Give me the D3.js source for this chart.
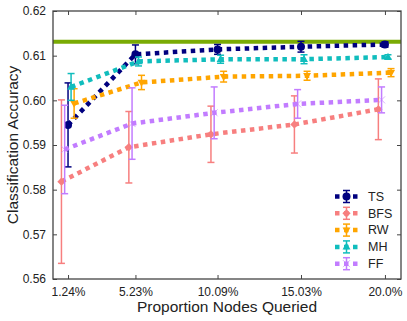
<!DOCTYPE html>
<html>
<head>
<meta charset="utf-8">
<script src="https://cdn.jsdelivr.net/npm/d3@7"></script>
<style>
  body { margin: 0; background: #fff; }
  svg text { font-family: "Liberation Sans", Arial, sans-serif; fill: #222; }
</style>
</head>
<body>
<svg id="chart" width="407" height="321"></svg>
<script>
// proportion of nodes queried (%)
const xValues = [1.24, 5.23, 10.09, 15.03, 20.0];
const xTickLabels = ['1.24%', '5.23%', '10.09%', '15.03%', '20.0%'];
const yTicks = [0.56, 0.57, 0.58, 0.59, 0.60, 0.61, 0.62];

const seriesNames = ['TS', 'BFS', 'RW', 'MH', 'FF'];
const tsMean  = [0.5945, 0.6103, 0.6114, 0.6120, 0.6125];
const tsErr   = [0.0094, 0.0021, 0.0011, 0.0012, 0.0006];
const bfsMean = [0.5818, 0.5895, 0.5924, 0.5946, 0.5980];
const bfsErr  = [0.0183, 0.0080, 0.0063, 0.0064, 0.0068];
const rwMean  = [0.5993, 0.6040, 0.6053, 0.6055, 0.6062];
const rwErr   = [0.0033, 0.0016, 0.0012, 0.0010, 0.0009];
const mhMean  = [0.6030, 0.6087, 0.6092, 0.6092, 0.6097];
const mhErr   = [0.0030, 0.0010, 0.0009, 0.0010, 0.0005];
const ffMean  = [0.5890, 0.5948, 0.5972, 0.5992, 0.6001];
const ffErr   = [0.0099, 0.0080, 0.0058, 0.0032, 0.0029];

// full-graph accuracy reference line
const baseline = 0.6131;

class ErrorbarChart {

  constructor(_config) {
    this.config = {
      parentElement: _config.parentElement,
      margin: { top: 11, right: 6, bottom: 42, left: 53 }
    };
    this.series = [
      { name: 'TS',  mean: tsMean,  err: tsErr,  color: '#00007f', marker: 'circle',  dodge: 0 },
      { name: 'BFS', mean: bfsMean, err: bfsErr, color: '#f77f7f', marker: 'diamond', dodge: -0.39 },
      { name: 'RW',  mean: rwMean,  err: rwErr,  color: '#ffa500', marker: 'tridown', dodge: 0.36 },
      { name: 'MH',  mean: mhMean,  err: mhErr,  color: '#10bdbd', marker: 'triup',   dodge: 0.18 },
      { name: 'FF',  mean: ffMean,  err: ffErr,  color: '#c27cff', marker: 'x',       dodge: -0.2 }
    ];
    this.initVis();
  }

  initVis() {
    let vis = this;
    vis.svg = d3.select(vis.config.parentElement);
    vis.width = +vis.svg.attr('width') - vis.config.margin.left - vis.config.margin.right;
    vis.height = +vis.svg.attr('height') - vis.config.margin.top - vis.config.margin.bottom;

    vis.chart = vis.svg.append('g')
      .attr('transform', `translate(${vis.config.margin.left},${vis.config.margin.top})`);

    vis.xScale = d3.scaleLinear().domain([0.35, 20.95]).range([0, vis.width]);
    vis.yScale = d3.scaleLinear().domain([0.56, 0.62]).range([vis.height, 0]);

    vis.renderVis();
  }

  markerPath(type, size) {
    let s = size;
    if (type === 'diamond') return `M0,${-s * 1.15}L${s * 1.15},0L0,${s * 1.15}L${-s * 1.15},0Z`;
    if (type === 'triup') return `M0,${-s * 1.2}L${s * 1.1},${s * 0.75}L${-s * 1.1},${s * 0.75}Z`;
    if (type === 'tridown') return `M0,${s * 1.2}L${s * 1.1},${-s * 0.75}L${-s * 1.1},${-s * 0.75}Z`;
    if (type === 'x') return `M${-s},${-s}L${s},${s}M${-s},${s}L${s},${-s}`;
    return null;
  }

  drawMarker(g, type, color) {
    let vis = this;
    if (type === 'circle') {
      g.append('circle').attr('r', 4).attr('fill', color);
    } else if (type === 'x') {
      g.append('path').attr('d', vis.markerPath('x', 3.5))
        .attr('stroke', color).attr('stroke-width', 1).attr('fill', 'none').attr('opacity', 0.6);
    } else {
      g.append('path').attr('d', vis.markerPath(type, 3.6)).attr('fill', color);
    }
  }

  renderVis() {
    let vis = this;
    const x = vis.xScale, y = vis.yScale;

    // axis ticks inside the frame on all four sides
    const axisGrey = '#444';
    const yAxisL = d3.axisLeft(y).tickValues(yTicks).tickSize(-4).tickPadding(7).tickFormat(d3.format('.2f'));
    const yAxisR = d3.axisRight(y).tickValues(yTicks).tickSize(-4).tickFormat('');
    const xAxisB = d3.axisBottom(x).tickValues(xValues).tickSize(-4).tickPadding(8).tickFormat((d, i) => xTickLabels[i]);
    const xAxisT = d3.axisTop(x).tickValues(xValues).tickSize(-4).tickFormat('');

    const axes = [
      vis.chart.append('g').call(yAxisL),
      vis.chart.append('g').attr('transform', `translate(${vis.width},0)`).call(yAxisR),
      vis.chart.append('g').attr('transform', `translate(0,${vis.height})`).call(xAxisB),
      vis.chart.append('g').call(xAxisT)
    ];
    axes.forEach(a => {
      a.select('.domain').remove();
      a.selectAll('.tick line').attr('stroke', axisGrey).attr('stroke-width', 1);
      a.selectAll('.tick text').attr('font-size', 12).attr('fill', '#222')
        .attr('font-family', '"Liberation Sans", Arial, sans-serif');
    });

    // baseline
    vis.chart.append('line')
      .attr('x1', 0).attr('x2', vis.width)
      .attr('y1', y(baseline)).attr('y2', y(baseline))
      .attr('stroke', '#7aab04').attr('stroke-width', 4);

    const line = d3.line().x(d => x(d.x)).y(d => y(d.m));

    vis.series.forEach(s => {
      const pts = xValues.map((xv, i) => ({ x: xv + s.dodge, m: s.mean[i], e: s.err[i] }));
      const g = vis.chart.append('g');

      // error bars
      const eb = g.selectAll('.eb').data(pts).join('g').attr('class', 'eb');
      eb.append('line')
        .attr('x1', d => x(d.x)).attr('x2', d => x(d.x))
        .attr('y1', d => y(d.m - d.e)).attr('y2', d => y(d.m + d.e))
        .attr('stroke', s.color).attr('stroke-width', 1.5);
      [-1, 1].forEach(sign => {
        eb.append('line')
          .attr('x1', d => x(d.x) - 3.5).attr('x2', d => x(d.x) + 3.5)
          .attr('y1', d => y(d.m + sign * d.e)).attr('y2', d => y(d.m + sign * d.e))
          .attr('stroke', s.color).attr('stroke-width', 1.5);
      });

      g.append('path')
        .datum(pts)
        .attr('d', line)
        .attr('fill', 'none')
        .attr('stroke', s.color)
        .attr('stroke-width', 4.5)
        .attr('stroke-dasharray', '4.5,4.5');

      pts.forEach(d => {
        const mg = g.append('g').attr('transform', `translate(${x(d.x)},${y(d.m)})`);
        vis.drawMarker(mg, s.marker, s.color);
      });
    });

    // frame
    vis.chart.append('rect')
      .attr('width', vis.width).attr('height', vis.height)
      .attr('fill', 'none').attr('stroke', axisGrey).attr('stroke-width', 1.3);

    // legend
    const legend = vis.chart.append('g').attr('transform', `translate(${282},${185.5})`);
    vis.series.forEach((s, i) => {
      const row = legend.append('g').attr('transform', `translate(0,${i * 16.8})`);
      row.append('line')
        .attr('x1', 0).attr('x2', 23).attr('y1', 0).attr('y2', 0)
        .attr('stroke', s.color).attr('stroke-width', 4.5)
        .attr('stroke-dasharray', '4.5,4.5');
      row.append('line').attr('x1', 11.5).attr('x2', 11.5).attr('y1', -6).attr('y2', 6)
        .attr('stroke', s.color).attr('stroke-width', 1.5);
      [-6, 6].forEach(dy => {
        row.append('line').attr('x1', 8).attr('x2', 15).attr('y1', dy).attr('y2', dy)
          .attr('stroke', s.color).attr('stroke-width', 1.5);
      });
      const mg = row.append('g').attr('transform', 'translate(11.5,0)');
      vis.drawMarker(mg, s.marker, s.color);
      row.append('text')
        .attr('x', 33).attr('y', 0).attr('dy', '0.35em')
        .attr('font-size', 12.5)
        .text(s.name);
    });

    // axis titles
    vis.svg.append('text')
      .attr('x', vis.config.margin.left + vis.width / 2)
      .attr('y', 312)
      .attr('text-anchor', 'middle')
      .attr('font-size', 15.5)
      .text('Proportion Nodes Queried');

    vis.svg.append('text')
      .attr('transform', `translate(18,${vis.config.margin.top + vis.height / 2}) rotate(-90)`)
      .attr('text-anchor', 'middle')
      .attr('font-size', 15.5)
      .text('Classification Accuracy');
  }
}

new ErrorbarChart({ parentElement: '#chart' });
</script>
</body>
</html>
